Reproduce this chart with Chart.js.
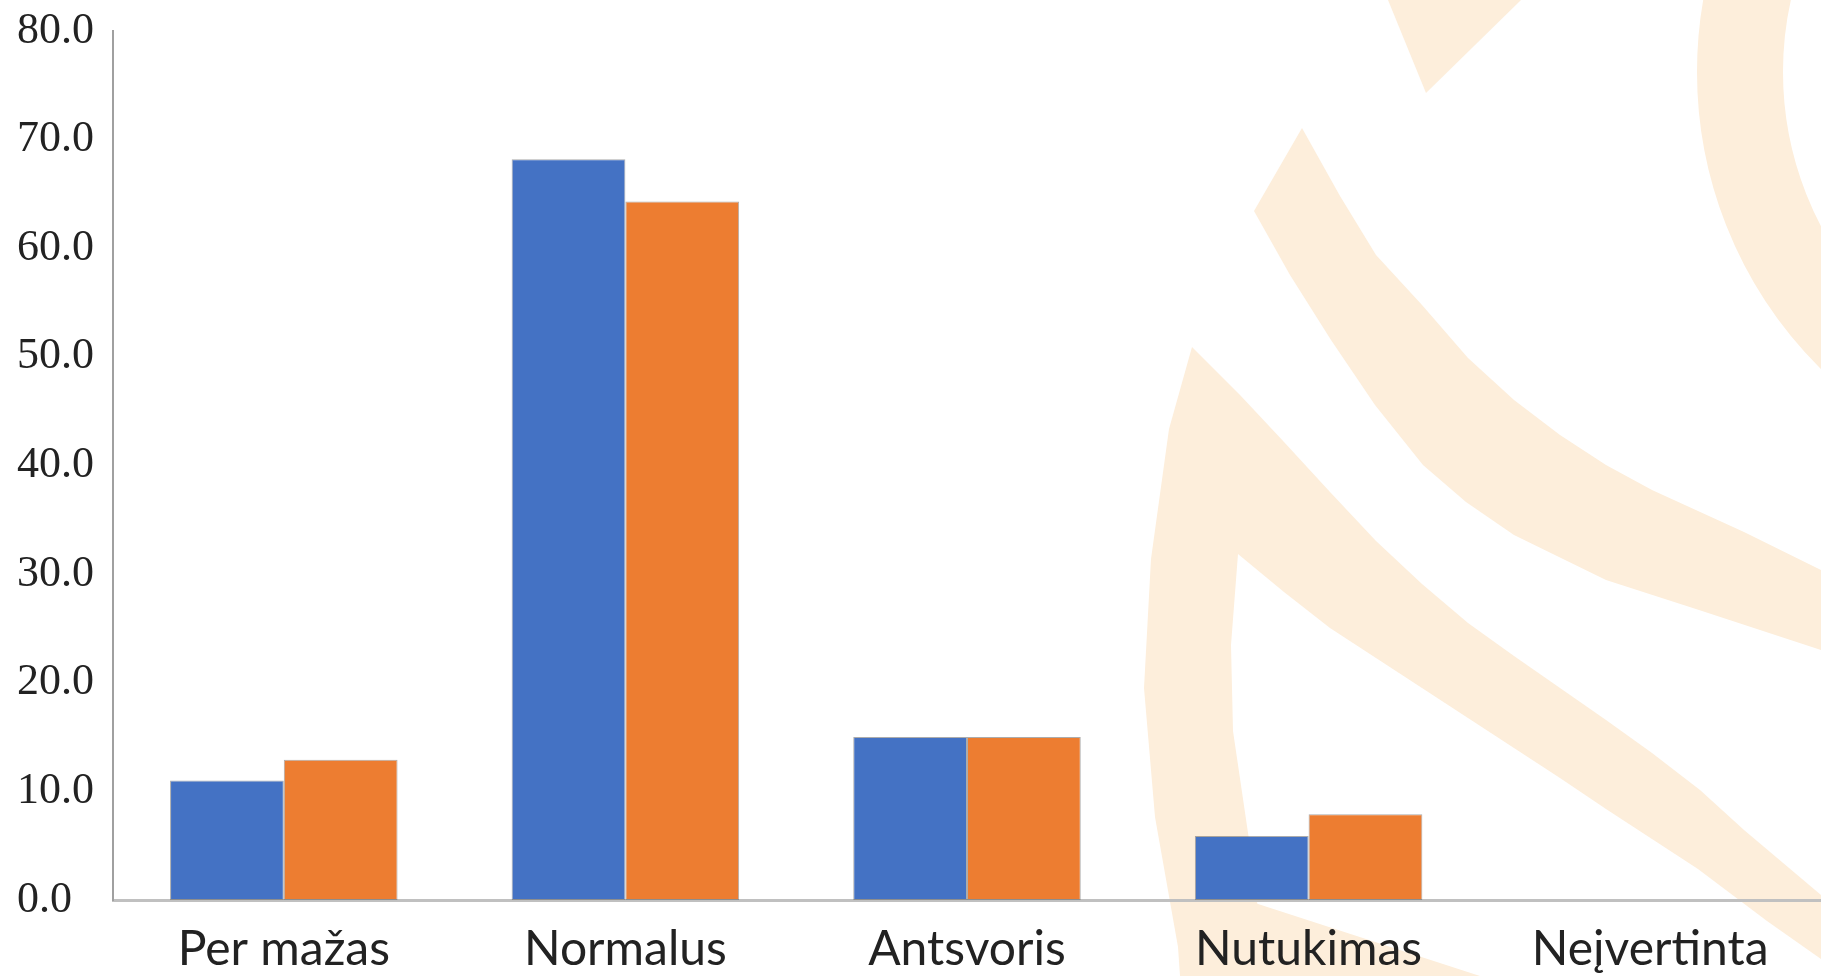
<!DOCTYPE html>
<html>
<head>
<meta charset="utf-8">
<script src="https://cdn.jsdelivr.net/npm/chart.js@4.4.1/dist/chart.umd.min.js"></script>
<style>
    html, body { margin: 0; padding: 0; background: #fff; overflow: hidden; }
    #chart { display: block; }
</style>
</head>
<body>
<canvas id="chart" width="1821" height="976"></canvas>
<script>
const categories = ['Per mažas', 'Normalus', 'Antsvoris', 'Nutukimas', 'Neįvertinta'];
const blueValues = [11.0, 68.2, 15.0, 5.9, 0];
const orangeValues = [12.9, 64.3, 15.0, 7.9, 0];
const yTicks = [0, 10, 20, 30, 40, 50, 60, 70, 80];

// pale logo in the background
const watermark = {
    id: 'watermark',
    beforeDraw(chart) {
        const ctx = chart.ctx;
        const pale = '#fdeedb';
        ctx.save();
        ctx.fillStyle = '#fff';
        ctx.fillRect(0, 0, chart.width, chart.height);
        ctx.fillStyle = pale;
        ctx.strokeStyle = pale;

        const poly = pts => {
            ctx.beginPath();
            ctx.moveTo(pts[0][0], pts[0][1]);
            for (let i = 1; i < pts.length; i++) ctx.lineTo(pts[i][0], pts[i][1]);
            ctx.closePath();
            ctx.fill();
        };
        poly([[1388, 0], [1426, 93], [1521, 0]]);
        poly([[1302, 128], [1340, 196], [1376, 255], [1422, 305], [1468, 358], [1514, 400], [1560, 435],
              [1606, 465], [1652, 490], [1744, 532], [1821, 570], [1821, 650], [1760, 630], [1699, 610],
              [1606, 580], [1514, 535], [1466, 502], [1423, 465], [1375, 405], [1331, 340], [1290, 275],
              [1254, 211]]);
        poly([[1192, 347], [1240, 395], [1284, 442], [1330, 492], [1376, 541], [1422, 584], [1468, 623],
              [1514, 656], [1560, 688], [1606, 720], [1652, 753], [1700, 790], [1744, 830], [1821, 895],
              [1821, 959], [1767, 921], [1698, 869], [1652, 839], [1606, 809], [1560, 778], [1514, 748],
              [1468, 718], [1422, 688], [1376, 658], [1330, 628], [1284, 592], [1238, 554], [1231, 645],
              [1233, 731], [1252, 860], [1266, 976], [1180, 976], [1178, 947], [1155, 817], [1144, 688],
              [1151, 559], [1169, 429]]);
        poly([[1255, 903], [1480, 976], [1258, 976]]);

        ctx.lineWidth = 86;
        ctx.beginPath();
        ctx.arc(2115, 72, 375, 0, Math.PI * 2);
        ctx.stroke();
        ctx.restore();
    }
};

new Chart(document.getElementById('chart'), {
    type: 'bar',
    data: {
        labels: categories,
        datasets: [{
            label: 'Serija 1',
            data: blueValues,
            backgroundColor: '#4472c4',
            borderColor: 'rgba(90, 90, 90, 0.5)',
            borderWidth: 1,
            borderSkipped: false
        }, {
            label: 'Serija 2',
            data: orangeValues,
            backgroundColor: '#ed7d31',
            borderColor: 'rgba(90, 90, 90, 0.5)',
            borderWidth: 1,
            borderSkipped: false
        }]
    },
    options: {
        responsive: false,
        animation: false,
        devicePixelRatio: 1,
        layout: { padding: { left: 17, top: 31, right: 0, bottom: 0 } },
        categoryPercentage: 0.666,
        barPercentage: 1.0,
        plugins: {
            legend: { display: false },
            tooltip: { enabled: false }
        },
        scales: {
            x: {
                grid: { display: false, drawTicks: false },
                border: { display: true, color: '#c0c0c0', width: 3 },
                ticks: {
                    font: { family: 'Lato', size: 48 },
                    color: '#222',
                    padding: 21,
                    maxRotation: 0,
                    autoSkip: false
                },
                afterFit(scale) { scale.height = 76; }
            },
            y: {
                min: 0,
                max: 80,
                grid: { display: false, drawTicks: false },
                border: { display: true, color: '#a0a0a0', width: 2 },
                afterBuildTicks(scale) {
                    scale.ticks = yTicks.map(v => ({ value: v }));
                },
                ticks: {
                    font: { family: 'Liberation Serif', size: 44 },
                    color: '#222',
                    crossAlign: 'far',
                    callback: v => Number(v).toFixed(1)
                },
                afterFit(scale) { scale.width = 96; }
            }
        }
    },
    plugins: [watermark]
});
</script>
</body>
</html>
